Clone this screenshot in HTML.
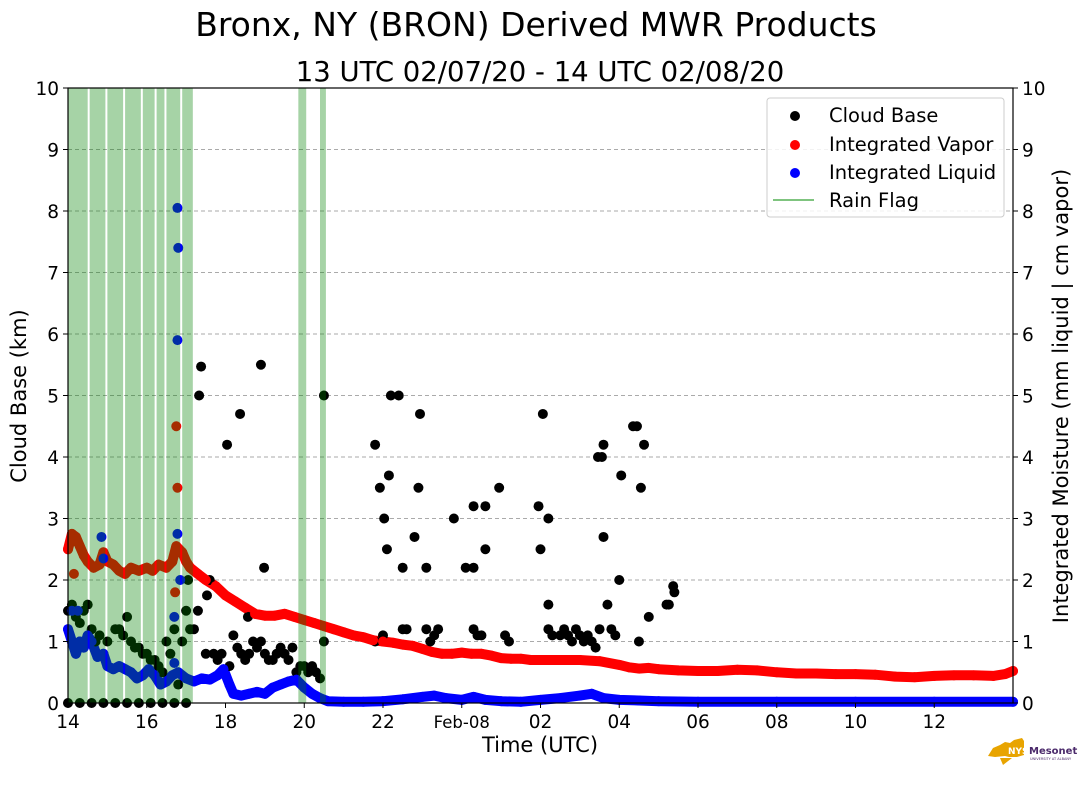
<!DOCTYPE html>
<html><head><meta charset="utf-8"><style>
html,body{margin:0;padding:0;background:#fff;}
svg{display:block;font-family:"DejaVu Sans","Liberation Sans",sans-serif;}
</style></head><body>
<svg id="chart" width="1089" height="804" viewBox="0 0 1089 804" xmlns="http://www.w3.org/2000/svg">
<text x="536" y="36" font-size="33" text-anchor="middle">Bronx, NY (BRON) Derived MWR Products</text>
<text x="540" y="81" font-size="27.5" text-anchor="middle">13 UTC 02/07/20 - 14 UTC 02/08/20</text>
<g id="grid"></g>
<g id="series"></g>
<g id="bands"></g>
<rect x="68" y="88" width="945" height="615" fill="none" stroke="#000" stroke-width="1.2"/>
<g id="axes"></g>
<text x="540" y="752" font-size="21" text-anchor="middle">Time (UTC)</text>
<text transform="translate(26,396) rotate(-90)" font-size="21" text-anchor="middle">Cloud Base (km)</text>
<text transform="translate(1068,396) rotate(-90)" font-size="21" text-anchor="middle">Integrated Moisture (mm liquid | cm vapor)</text>
<g>
<rect x="767" y="98" width="237" height="119" rx="3" fill="#fff" fill-opacity="0.85" stroke="#ccc"/>
<circle cx="795" cy="116" r="5" fill="#000"/><text x="829" y="122" font-size="19.5">Cloud Base</text>
<circle cx="795" cy="145" r="5" fill="#f00"/><text x="829" y="151" font-size="19.5">Integrated Vapor</text>
<circle cx="795" cy="173" r="5" fill="#00f"/><text x="829" y="179" font-size="19.5">Integrated Liquid</text>
<line x1="773" y1="200" x2="814" y2="200" stroke="#7fc47f" stroke-width="2"/><text x="829" y="207" font-size="19.5">Rain Flag</text>
</g>
<g>
<path d="M993 748 L1000 745 L1005 742 L1010 743 L1014 740 L1022 738 L1024 741 L1024 755 L1017 757 L1009 757 L1005 756 L995 757 L988 756 Z M1000 758 L1012 758 L1003 765 Z" fill="#e8a400"/>
<text x="1008" y="754" font-size="9" font-weight="bold" fill="#fff">NYS</text>
<text x="1029" y="754" font-size="10" font-weight="bold" fill="#4b2a6b">Mesonet</text>
<text x="1030" y="760" font-size="3.5" fill="#4b2a6b">UNIVERSITY AT ALBANY</text>
</g>
</svg>
<script>
const xTickLabels=["14","16","18","20","22","Feb-08","02","04","06","08","10","12"];
const xTickHours=[14,16,18,20,22,24,26,28,30,32,34,36];
const yTicks=[0,1,2,3,4,5,6,7,8,9,10];
const rainStarts=[14.0,14.55,15.0,15.45,15.9,16.25,16.5,16.9,19.85,20.4];
const rainEnds=[14.5,14.95,15.4,15.85,16.2,16.45,16.85,17.17,20.05,20.55];
const vaporT=[14.0,14.1,14.2,14.3,14.4,14.5,14.65,14.8,14.9,15.0,15.15,15.3,15.45,15.6,15.8,16.0,16.15,16.3,16.5,16.65,16.75,16.9,17.0,17.1,17.3,17.5,17.75,18.0,18.25,18.5,18.75,19.0,19.25,19.5,19.75,20.0,20.25,20.5,20.75,21.0,21.25,21.5,21.75,22.0,22.25,22.5,22.75,23.0,23.25,23.5,23.75,24.0,24.25,24.5,24.75,25.0,25.25,25.5,25.75,26.0,26.5,27.0,27.5,28.0,28.25,28.5,28.75,29.0,29.5,30.0,30.5,31.0,31.5,32.0,32.5,33.0,33.5,34.0,34.5,35.0,35.5,36.0,36.5,37.0,37.5,37.8,38.0];
const vaporV=[2.5,2.75,2.7,2.55,2.4,2.3,2.2,2.25,2.45,2.3,2.25,2.15,2.1,2.2,2.15,2.2,2.15,2.25,2.2,2.3,2.55,2.45,2.3,2.2,2.1,2.0,1.9,1.75,1.65,1.55,1.45,1.42,1.42,1.45,1.4,1.35,1.3,1.25,1.2,1.15,1.1,1.07,1.02,1.0,0.98,0.95,0.93,0.88,0.83,0.8,0.8,0.82,0.8,0.8,0.77,0.73,0.72,0.72,0.7,0.7,0.7,0.7,0.68,0.62,0.58,0.56,0.57,0.55,0.53,0.52,0.52,0.54,0.53,0.5,0.48,0.48,0.47,0.47,0.46,0.43,0.42,0.44,0.45,0.45,0.44,0.47,0.52];
const vaporOutT=[14.15,16.75,16.78,16.72];
const vaporOutV=[2.1,4.5,3.5,1.8];
const liquidT=[14.0,14.1,14.2,14.3,14.4,14.5,14.6,14.75,14.9,15.0,15.15,15.3,15.45,15.6,15.75,15.9,16.05,16.2,16.35,16.5,16.65,16.8,17.0,17.2,17.4,17.6,17.8,17.95,18.1,18.2,18.4,18.6,18.8,19.0,19.2,19.4,19.6,19.8,20.0,20.2,20.4,20.6,21.0,21.5,22.0,22.5,23.0,23.3,23.6,24.0,24.3,24.6,25.0,25.5,26.0,26.5,27.0,27.3,27.6,28.0,28.5,29.0,30.0,32.0,34.0,36.0,38.0];
const liquidV=[1.2,1.0,0.8,1.0,0.9,1.1,1.0,0.75,0.8,0.6,0.55,0.6,0.55,0.5,0.4,0.45,0.55,0.45,0.3,0.35,0.45,0.5,0.4,0.35,0.4,0.38,0.45,0.55,0.3,0.15,0.12,0.15,0.18,0.15,0.25,0.3,0.35,0.38,0.25,0.15,0.08,0.03,0.02,0.02,0.03,0.06,0.1,0.12,0.08,0.05,0.1,0.05,0.03,0.02,0.05,0.08,0.12,0.15,0.08,0.05,0.04,0.03,0.02,0.02,0.02,0.02,0.02];
const liquidOutT=[14.1,14.25,14.85,14.9,16.78,16.8,16.78,16.78,16.85,16.7,16.7];
const liquidOutV=[1.5,1.5,2.7,2.35,8.05,7.4,5.9,2.75,2.0,1.4,0.65];
const cloudT=[17.38,17.33,17.6,17.05,17.53,18.04,18.37,18.9,18.98,18.57,20.5,21.8,21.92,22.03,22.1,22.15,22.2,22.4,22.5,22.8,22.9,22.94,23.1,23.8,24.1,24.3,24.3,24.6,24.6,24.95,25.95,26.0,26.06,26.2,26.2,27.46,27.56,27.6,27.6,28.05,28.0,28.35,28.45,28.55,28.63,28.75,29.26,29.37,29.4,27.7,
14.0,14.1,14.2,14.3,14.4,14.5,14.6,14.7,14.8,15.0,15.2,15.3,15.4,15.5,15.6,15.7,15.8,15.9,16.0,16.1,16.2,16.3,16.4,16.5,16.6,16.7,16.8,16.9,17.0,17.1,17.2,17.3,17.5,17.7,17.8,17.9,18.1,18.2,18.3,18.4,18.5,18.6,18.7,18.8,18.9,19.0,19.1,19.2,19.3,19.4,19.5,19.6,19.7,19.8,19.9,20.0,20.1,20.2,20.3,20.4,20.5,21.8,22.0,22.5,22.6,23.1,23.2,23.3,23.4,24.3,24.4,24.5,25.1,25.2,26.2,26.3,26.5,26.6,26.7,26.8,26.9,27.0,27.1,27.2,27.3,27.4,27.5,27.8,27.9,28.5,29.2,
14.0,14.3,14.6,14.9,15.2,15.5,15.8,16.1,16.4,16.7,17.0];
const cloudV=[5.47,5.0,2.0,2.0,1.75,4.2,4.7,5.5,2.2,1.4,5.0,4.2,3.5,3.0,2.5,3.7,5.0,5.0,2.2,2.7,3.5,4.7,2.2,3.0,2.2,2.2,3.2,2.5,3.2,3.5,3.2,2.5,4.7,3.0,1.6,4.0,4.0,4.2,2.7,3.7,2.0,4.5,4.5,3.5,4.2,1.4,1.6,1.9,1.8,1.6,
1.5,1.6,1.4,1.3,1.5,1.6,1.2,1.0,1.1,1.0,1.2,1.2,1.1,1.4,1.0,0.9,0.9,0.8,0.8,0.7,0.7,0.6,0.5,1.0,0.8,1.2,0.3,1.0,1.5,1.2,1.2,1.5,0.8,0.8,0.7,0.8,0.6,1.1,0.9,0.8,0.7,0.8,1.0,0.9,1.0,0.8,0.7,0.7,0.8,0.9,0.8,0.7,0.9,0.5,0.6,0.6,0.5,0.6,0.5,0.4,1.0,1.0,1.1,1.2,1.2,1.2,1.0,1.1,1.2,1.2,1.1,1.1,1.1,1.0,1.2,1.1,1.1,1.2,1.1,1.0,1.2,1.1,1.0,1.1,1.0,0.9,1.2,1.2,1.1,1.0,1.6,
0.0,0.0,0.0,0.0,0.0,0.0,0.0,0.0,0.0,0.0,0.0];

const NS="http://www.w3.org/2000/svg";
const X0=68,X1=1013,Y0=703,Y1=88,T0=14,T1=38;
function xs(t){return X0+(t-T0)/(T1-T0)*(X1-X0);}
function ys(v){return Y0-v/10*(Y0-Y1);}
function mk(tag,attrs,parent){const e=document.createElementNS(NS,tag);for(const k in attrs)e.setAttribute(k,attrs[k]);parent.appendChild(e);return e;}
const grid=document.getElementById('grid'),series=document.getElementById('series'),bands=document.getElementById('bands'),axes=document.getElementById('axes');

yTicks.forEach(v=>{
  if(v>0&&v<10){const g=mk('line',{x1:X0,x2:X1,y1:ys(v),y2:ys(v),stroke:'#aaa','stroke-dasharray':'4,3','stroke-width':1},grid);
  
  }
  const tl=mk('line',{x1:X0-5,x2:X0,y1:ys(v),y2:ys(v),stroke:'#000'},axes);
  
  
  const tr=mk('line',{x1:X1,x2:X1+5,y1:ys(v),y2:ys(v),stroke:'#000'},axes);
  
  
  const a=mk('text',{x:X0-9,y:ys(v)+7,'font-size':18.5,'text-anchor':'end'},axes);a.textContent=v;
  
  
  const b=mk('text',{x:X1+9,y:ys(v)+7,'font-size':18.5},axes);b.textContent=v;
  
  
});
xTickHours.forEach((h,i)=>{
  const t=mk('line',{x1:xs(h),x2:xs(h),y1:Y0,y2:Y0+5,stroke:'#000'},axes);
  
  
  const l=mk('text',{x:xs(h),y:Y0+25,'font-size':h===24?16.5:18.5,'text-anchor':'middle'},axes);l.textContent=xTickLabels[i];
  
  
});

function linePath(T,V){return T.map((t,i)=>(i?'L':'M')+xs(t).toFixed(1)+' '+ys(V[i]).toFixed(1)).join(' ');}
function dots(T,V,col,name){T.forEach((t,i)=>{const c=mk('circle',{cx:xs(t),cy:ys(V[i]),r:5,fill:col},series);
  
  });}

const lp=mk('path',{d:linePath(liquidT,liquidV),fill:'none',stroke:'#00f','stroke-width':10,'stroke-linecap':'round','stroke-linejoin':'round'},series);


const vp=mk('path',{d:linePath(vaporT,vaporV),fill:'none',stroke:'#f00','stroke-width':10,'stroke-linecap':'round','stroke-linejoin':'round'},series);


dots(cloudT,cloudV,'#000','cloud-base-point');
dots(vaporT,vaporV,'#f00','vapor-point');
dots(vaporOutT,vaporOutV,'#f00','vapor-point');
dots(liquidT,liquidV,'#00f','liquid-point');
dots(liquidOutT,liquidOutV,'#00f','liquid-point');

rainStarts.forEach((s,i)=>{
  const r=mk('rect',{x:xs(s),y:Y1,width:xs(rainEnds[i])-xs(s),height:Y0-Y1,fill:'#008000','fill-opacity':0.35},bands);
  
  
});
</script>
</body></html>
